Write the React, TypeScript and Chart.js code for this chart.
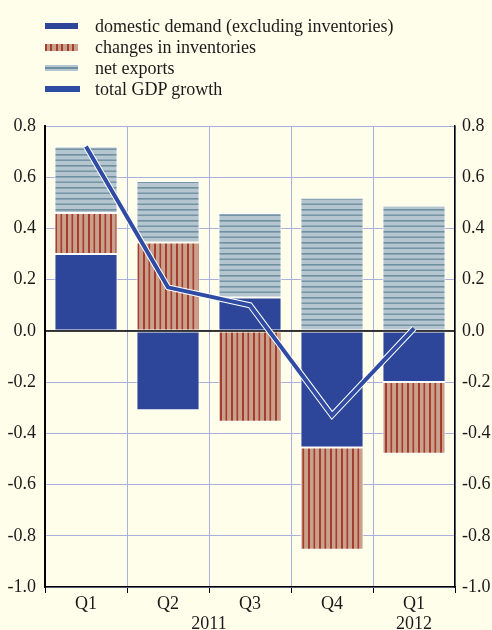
import React, { useEffect, useRef } from 'react';
import { Chart, registerables } from 'chart.js';

Chart.register(...registerables);

const quarters = ['Q1', 'Q2', 'Q3', 'Q4', 'Q1'];
const years = ['2011', '2011', '2011', '2011', '2012'];
const domesticDemand = [0.3, -0.31, 0.13, -0.455, -0.2];
const inventoryChanges = [0.16, 0.345, -0.355, -0.4, -0.28];
const netExports = [0.26, 0.24, 0.33, 0.52, 0.49];
const totalGdp = [0.72, 0.17, 0.1, -0.33, 0.01];
const yTicks = [-1.0, -0.8, -0.6, -0.4, -0.2, 0.0, 0.2, 0.4, 0.6, 0.8];
const legendLabels = [
  'domestic demand (excluding inventories)',
  'changes in inventories',
  'net exports',
  'total GDP growth',
];

const BG = '#fffeeb';
const BLUE = '#2e4699';
const LINE_BLUE = '#2f4ba3';
const GRID = '#a9b0e0';
const FONT = "'Liberation Serif', 'Times New Roman', serif";
const TEXT = '#1a1a1a';

function makeStripePattern(vertical: boolean, base: string, stripe: string): CanvasPattern | string {
  const c = document.createElement('canvas');
  c.width = 11;
  c.height = 11;
  const g = c.getContext('2d');
  if (!g) return base;
  g.fillStyle = base;
  g.fillRect(0, 0, 11, 11);
  g.fillStyle = stripe;
  if (vertical) {
    g.fillRect(0, 0, 2, 11);
    g.fillRect(5.5, 0, 1.6, 11);
  } else {
    g.fillRect(0, 0, 11, 1.6);
    g.fillRect(0, 5.5, 11, 1.4);
  }
  const p = g.createPattern(c, 'repeat');
  return p || base;
}

const swatchStyles: React.CSSProperties[] = [
  { background: BLUE, height: 6 },
  {
    background: 'repeating-linear-gradient(90deg, #a53d2d 0px, #a53d2d 2px, #c9a08c 2px, #c9a08c 5.5px)',
    height: 7,
  },
  {
    background: 'linear-gradient(180deg, #b6c6d0 0px, #b6c6d0 2px, #6e8fa0 2px, #6e8fa0 3.5px, #b6c6d0 3.5px)',
    height: 6,
  },
  { background: LINE_BLUE, height: 6, width: 35 },
];

const zeroLinePlugin = {
  id: 'zeroLine',
  beforeDatasetDraw(chart: any, args: any) {
    if (args.meta.type !== 'line' || args.index !== 1) return;
    const y = chart.scales.y.getPixelForValue(0);
    const { left, right } = chart.chartArea;
    const ctx = chart.ctx;
    ctx.save();
    ctx.strokeStyle = '#000';
    ctx.lineWidth = 1.5;
    ctx.beginPath();
    ctx.moveTo(left, y);
    ctx.lineTo(right, y);
    ctx.stroke();
    ctx.restore();
  },
};

const yearLabelPlugin = {
  id: 'yearLabels',
  afterDraw(chart: any) {
    const xs = chart.scales.x;
    const ctx = chart.ctx;
    ctx.save();
    ctx.font = `18px ${FONT}`;
    ctx.fillStyle = TEXT;
    ctx.textAlign = 'center';
    ctx.textBaseline = 'middle';
    let start = 0;
    for (let i = 1; i <= years.length; i++) {
      if (i === years.length || years[i] !== years[start]) {
        const x = (xs.getPixelForValue(start) + xs.getPixelForValue(i - 1)) / 2;
        ctx.fillText(years[start], x, 624);
        start = i;
      }
    }
    ctx.restore();
  },
};

export default function App() {
  const ref = useRef<HTMLCanvasElement>(null);

  useEffect(() => {
    document.body.style.margin = '0';
    document.body.style.background = BG;
    const canvas = ref.current;
    if (!canvas) return;
    const invPattern = makeStripePattern(true, '#c9a08c', '#a53d2d');
    const nxPattern = makeStripePattern(false, '#b6c6d0', '#6e8fa0');
    const tickFont = { family: FONT, size: 18 };
    const chart = new Chart(canvas, {
      type: 'bar',
      data: {
        labels: quarters,
        datasets: [
          {
            type: 'line',
            label: legendLabels[3],
            data: totalGdp,
            borderColor: LINE_BLUE,
            borderWidth: 4,
            pointRadius: 0,
            stack: 'gdp',
            order: 0,
          } as any,
          {
            type: 'line',
            label: 'outline',
            data: totalGdp,
            borderColor: '#ffffff',
            borderWidth: 6,
            pointRadius: 0,
            stack: 'gdpOutline',
            order: 1,
          } as any,
          {
            label: legendLabels[0],
            data: domesticDemand,
            backgroundColor: BLUE,
            borderColor: '#ffffff',
            borderWidth: 1,
            borderSkipped: false,
            stack: 'bars',
            order: 2,
          },
          {
            label: legendLabels[1],
            data: inventoryChanges,
            backgroundColor: invPattern as any,
            borderColor: '#ffffff',
            borderWidth: 1,
            borderSkipped: false,
            stack: 'bars',
            order: 2,
          },
          {
            label: legendLabels[2],
            data: netExports,
            backgroundColor: nxPattern as any,
            borderColor: '#ffffff',
            borderWidth: 1,
            borderSkipped: false,
            stack: 'bars',
            order: 2,
          },
        ],
      },
      options: {
        responsive: false,
        animation: false,
        devicePixelRatio: 1,
        barPercentage: 0.77,
        categoryPercentage: 1.0,
        layout: { padding: { top: 126, left: 0, right: 0, bottom: 0 } },
        plugins: {
          legend: { display: false },
          tooltip: { enabled: false },
        },
        scales: {
          x: {
            stacked: true,
            offset: true,
            grid: {
              offset: true,
              color: GRID,
              tickColor: '#000',
              tickLength: 6,
              lineWidth: 1,
            },
            border: { color: '#000', width: 1.5 },
            ticks: { font: tickFont, color: TEXT, padding: 0 },
            afterFit: (s: any) => {
              s.height = 43;
            },
          },
          y: {
            stacked: true,
            min: -1,
            max: 0.8,
            afterBuildTicks: (s: any) => {
              s.ticks = yTicks.map((v) => ({ value: v }));
            },
            ticks: {
              font: tickFont,
              color: TEXT,
              padding: 9,
              callback: (v: any) => Number(v).toFixed(1),
            },
            grid: { color: GRID, drawTicks: false },
            border: { color: '#000', width: 2 },
            afterFit: (s: any) => {
              s.width = 45;
            },
          },
          y2: {
            position: 'right',
            min: -1,
            max: 0.8,
            afterBuildTicks: (s: any) => {
              s.ticks = yTicks.map((v) => ({ value: v }));
            },
            ticks: {
              font: tickFont,
              color: TEXT,
              padding: 7,
              callback: (v: any) => Number(v).toFixed(1),
            },
            grid: { drawOnChartArea: false, drawTicks: false },
            border: { color: '#000', width: 1.5 },
            afterFit: (s: any) => {
              s.width = 37;
            },
          },
        },
      } as any,
      plugins: [zeroLinePlugin, yearLabelPlugin],
    });
    return () => chart.destroy();
  }, []);

  return (
    <div style={{ position: 'relative', width: 492, height: 630, background: BG, overflow: 'hidden' }}>
      <div style={{ position: 'absolute', left: 0, top: 16, fontFamily: FONT, fontSize: 18, color: TEXT }}>
        {legendLabels.map((label, i) => (
          <div key={label} style={{ position: 'relative', height: 21, lineHeight: '21px' }}>
            <span
              style={{
                position: 'absolute',
                left: 45,
                top: 10 - Math.floor(Number(swatchStyles[i].height) / 2),
                width: 33,
                ...swatchStyles[i],
              }}
            />
            <span style={{ position: 'absolute', left: 95, top: 0, whiteSpace: 'nowrap' }}>{label}</span>
          </div>
        ))}
      </div>
      <canvas ref={ref} width={492} height={630} style={{ display: 'block', width: 492, height: 630 }} />
    </div>
  );
}
